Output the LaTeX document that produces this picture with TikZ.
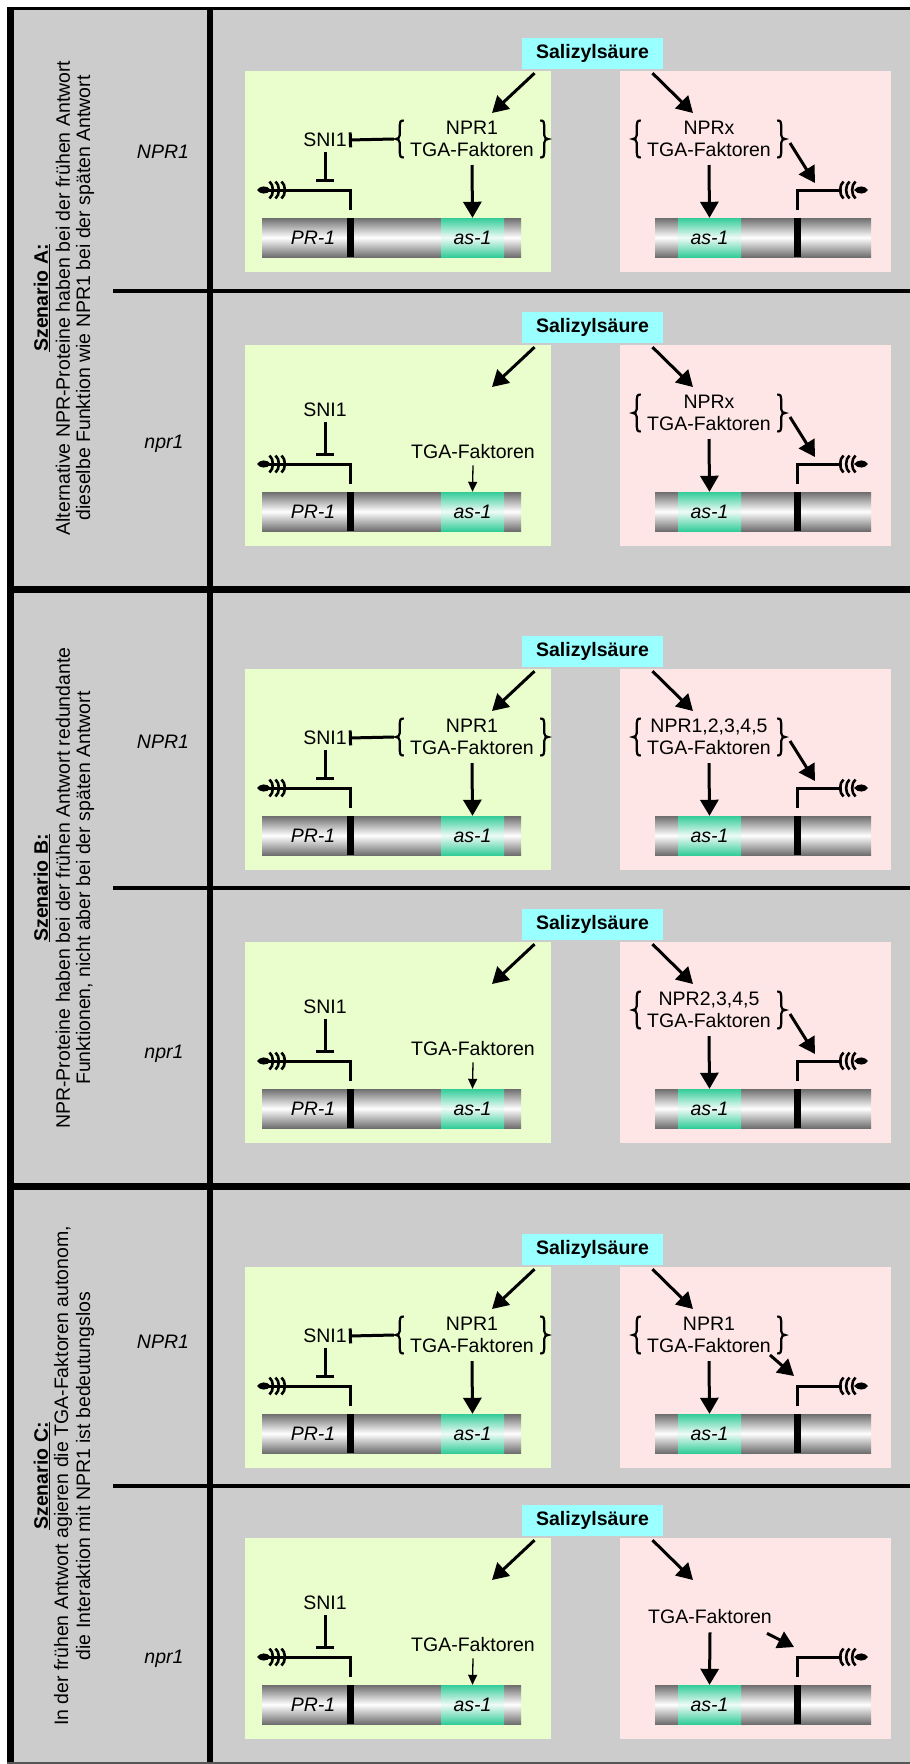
\documentclass[tikz,border=0pt]{standalone}
\usepackage{fontspec}
\setmainfont{Liberation Sans}
\usetikzlibrary{arrows.meta}

\definecolor{bggray}{HTML}{CCCCCC}
\definecolor{panelgreen}{HTML}{EAFDCC}
\definecolor{panelpink}{HTML}{FDE6E5}
\definecolor{salcyan}{HTML}{99FFFF}
\definecolor{bargray}{HTML}{6E6E6E}
\definecolor{asteal}{HTML}{33CC99}
\definecolor{framegray}{HTML}{555555}

\newcommand\txt{\fontsize{19.5pt}{22pt}\selectfont}

\tikzset{
  lbl/.style={font=\txt, inner sep=0pt, align=center},
  sclbl/.style={lbl, rotate=90},
  salbox/.style={fill=salcyan, font=\txt\bfseries, minimum width=141pt, minimum height=31pt, inner sep=0pt},
  grp/.style={lbl, minimum width=152pt},
  barseg/.style={shade, top color=bargray, bottom color=bargray, middle color=white, minimum height=39pt, inner sep=0pt},
  tealseg/.style={shade, top color=asteal, bottom color=asteal, middle color=white!92!asteal, minimum height=39pt, minimum width=63pt, inner sep=0pt, font=\txt\itshape},
  thickarrow/.style={line width=3pt, -{Triangle[length=16pt,width=18pt]}},
  thinarrow/.style={line width=1.3pt, -{Triangle[length=10pt,width=9pt]}},
  inhib/.style={line width=3pt, -{Bar[width=15pt]}},
  promline/.style={line width=3pt},
  % feathered promoter arrow, tip at the origin pointing to +x
  featherR/.pic={
    \fill (0,0) .. controls (-3,-4.5) and (-10,-5) .. (-14,0) .. controls (-10,5) and (-3,4.5) .. (0,0);
    \foreach \p in {-17,-23,-29} {\draw[line width=2.6pt] (\p+4.5,-8.5) .. controls (\p,-5) and (\p,5) .. (\p+4.5,8.5);}
  },
  % curly braces, origin at the cusp
  lbr/.pic={\draw[line width=2.2pt] (8,-18.5) .. controls (4.5,-18.5) and (4,-17) .. (4,-14) -- (4,-4) .. controls (4,-1) and (2,0) .. (0,0) .. controls (2,0) and (4,1) .. (4,4) -- (4,14) .. controls (4,17) and (4.5,18.5) .. (8,18.5);},
  rbr/.pic={\draw[line width=2.2pt] (-8,-18.5) .. controls (-4.5,-18.5) and (-4,-17) .. (-4,-14) -- (-4,-4) .. controls (-4,-1) and (-2,0) .. (0,0) .. controls (-2,0) and (-4,1) .. (-4,4) -- (-4,14) .. controls (-4,17) and (-4.5,18.5) .. (-8,18.5);}
}

% one signalling block: #1 name prefix, #2 top of the Salizylsaeure box,
% #3 contents of the left panel, #4 contents of the right panel
\newcommand\block[4]{%
\begin{scope}[yshift=-#2pt]
  \fill[panelgreen] (245,33) rectangle (551,234);
  \fill[panelpink] (620,33) rectangle (891,234);
  \node[salbox] (#1sal) at (592.5,15.5) {Salizylsäure};
  \coordinate (#1la) at (492,75);
  \coordinate (#1ra) at (693,75);
  \draw[thickarrow] ([xshift=-58pt,yshift=-4pt]#1sal.south) -- (#1la);
  \draw[thickarrow] ([xshift=60pt,yshift=-4pt]#1sal.south) -- (#1ra);
  % PR-1 gene, promoter pointing left
  \node[barseg, minimum width=259pt] (#1lbar) at (391.5,199.5) {};
  \node[tealseg] (#1las) at (472.5,199.5) {as-1};
  \fill (347,180) rectangle (354,219);
  \node[lbl, font=\txt\itshape] (#1pr) at (313,200) {PR-1};
  \coordinate (#1lp) at (350.5,172);
  \coordinate (#1lpe) at (268,152);
  \draw[promline] (#1lp) |- (#1lpe);
  \pic[rotate=180] at (257,152) {featherR};
  % second gene, promoter pointing right
  \node[barseg, minimum width=216pt] (#1rbar) at (763,199.5) {};
  \node[tealseg] (#1ras) at (709.5,199.5) {as-1};
  \fill (794,180) rectangle (801,219);
  \coordinate (#1rp) at (797.5,172);
  \coordinate (#1rpe) at (842,152);
  \draw[promline] (#1rp) |- (#1rpe);
  \pic at (868,152) {featherR};
  #3
  #4
\end{scope}}

% left panel, wild type
\newcommand\leftwt[1]{%
  \node[grp] (#1lg) at (472,101) {NPR1\\TGA-Faktoren};
  \pic at (#1lg.west) {lbr}; \pic at (#1lg.east) {rbr};
  \node[lbl] (#1sni) at (325,102) {SNI1};
  \draw[inhib] ([xshift=-2pt]#1lg.west) -- ([xshift=2pt]#1sni.east);
  \coordinate (#1li) at (325,144);
  \draw[inhib, -{Bar[width=18pt]}] ([yshift=-5pt]#1sni.south) -- (#1li);
  \draw[thickarrow] ([yshift=-8pt]#1lg.south) -- (#1las.north);
}
% left panel, npr1 mutant
\newcommand\leftmut[1]{%
  \node[lbl] (#1sni) at (325,98) {SNI1};
  \node[lbl] (#1lt) at (473,140) {TGA-Faktoren};
  \coordinate (#1li) at (325,144);
  \draw[inhib, -{Bar[width=18pt]}] ([yshift=-5pt]#1sni.south) -- (#1li);
  \draw[thinarrow] ([yshift=-6pt]#1lt.south) -- (#1las.north);
}
% right panel with bracketed NPR proteins; #3/#4: start and end of the promoter arrow
\newcommand\rightgrp[4]{%
  \node[grp] (#1rg) at (709,101) {#2\\TGA-Faktoren};
  \pic at (#1rg.west) {lbr}; \pic at (#1rg.east) {rbr};
  \draw[thickarrow] ([yshift=-8pt]#1rg.south) -- (#1ras.north);
  \coordinate (#1rs) at (#3);
  \coordinate (#1rk) at (#4);
  \draw[thickarrow] (#1rs) -- (#1rk);
}
% right panel with TGA factors only
\newcommand\rightplain[1]{%
  \node[lbl] (#1rt) at (710,112) {TGA-Faktoren};
  \draw[thickarrow] ([yshift=-8pt]#1rt.south) -- (#1ras.north);
  \coordinate (#1rk) at (794,142);
  \draw[thickarrow] ([xshift=-5pt,yshift=-9pt]#1rt.south east) -- (#1rk);
}

\begin{document}
\begin{tikzpicture}[x=1pt, y=-1pt]
\useasboundingbox (0,0) rectangle (910,1764);
\fill[white] (0,0) rectangle (910,1764);
\fill[bggray] (7,7) rectangle (910,1764);

% frame and grid
\fill (7,6.5) rectangle (910,10);
\fill (7,6.5) rectangle (14,1764);
\fill (207,6.5) rectangle (213,1764);
\fill (7,586) rectangle (910,593);
\fill (7,1183) rectangle (910,1190);
\fill (113,289) rectangle (910,293);
\fill (113,886) rectangle (910,890);
\fill (113,1484) rectangle (910,1488);
\fill[framegray] (7,1762) rectangle (910,1764);

% scenario descriptions
\node[sclbl] (scAt) at (42,298) {\textbf{\underline{Szenario A:}}};
\node[sclbl] (scA1) at (63,298) {Alternative NPR-Proteine haben bei der frühen Antwort};
\node[sclbl] (scA2) at (85,298) {dieselbe Funktion wie NPR1 bei der späten Antwort};
\node[sclbl] (scBt) at (42,888) {\textbf{\underline{Szenario B:}}};
\node[sclbl] (scB1) at (63,888) {NPR-Proteine haben bei der frühen Antwort redundante};
\node[sclbl] (scB2) at (85,888) {Funktionen, nicht aber bei der späten Antwort};
\node[sclbl] (scCt) at (42,1476) {\textbf{\underline{Szenario C:}}};
\node[sclbl] (scC1) at (63,1476) {In der frühen Antwort agieren die TGA-Faktoren autonom,};
\node[sclbl] (scC2) at (85,1476) {die Interaktion mit NPR1 ist bedeutungslos};

% genotype labels
\node[lbl, font=\txt\itshape] (gA1) at (163,152) {NPR1};
\node[lbl, font=\txt\itshape] (gA2) at (164,444) {npr1};
\node[lbl, font=\txt\itshape] (gB1) at (163,742) {NPR1};
\node[lbl, font=\txt\itshape] (gB2) at (164,1054) {npr1};
\node[lbl, font=\txt\itshape] (gC1) at (163,1342) {NPR1};
\node[lbl, font=\txt\itshape] (gC2) at (164,1659) {npr1};

% signalling blocks
\block{a1}{38}{\leftwt{a1}}{\rightgrp{a1}{NPRx}{790,105}{815,145}}
\block{a2}{312}{\leftmut{a2}}{\rightgrp{a2}{NPRx}{790,105}{815,145}}
\block{b1}{636}{\leftwt{b1}}{\rightgrp{b1}{NPR1,2,3,4,5}{790,105}{815,145}}
\block{b2}{909}{\leftmut{b2}}{\rightgrp{b2}{NPR2,3,4,5}{790,105}{815,145}}
\block{c1}{1234}{\leftwt{c1}}{\rightgrp{c1}{NPR1}{770,121}{794,142}}
\block{c2}{1505}{\leftmut{c2}}{\rightplain{c2}}
\end{tikzpicture}
\end{document}
